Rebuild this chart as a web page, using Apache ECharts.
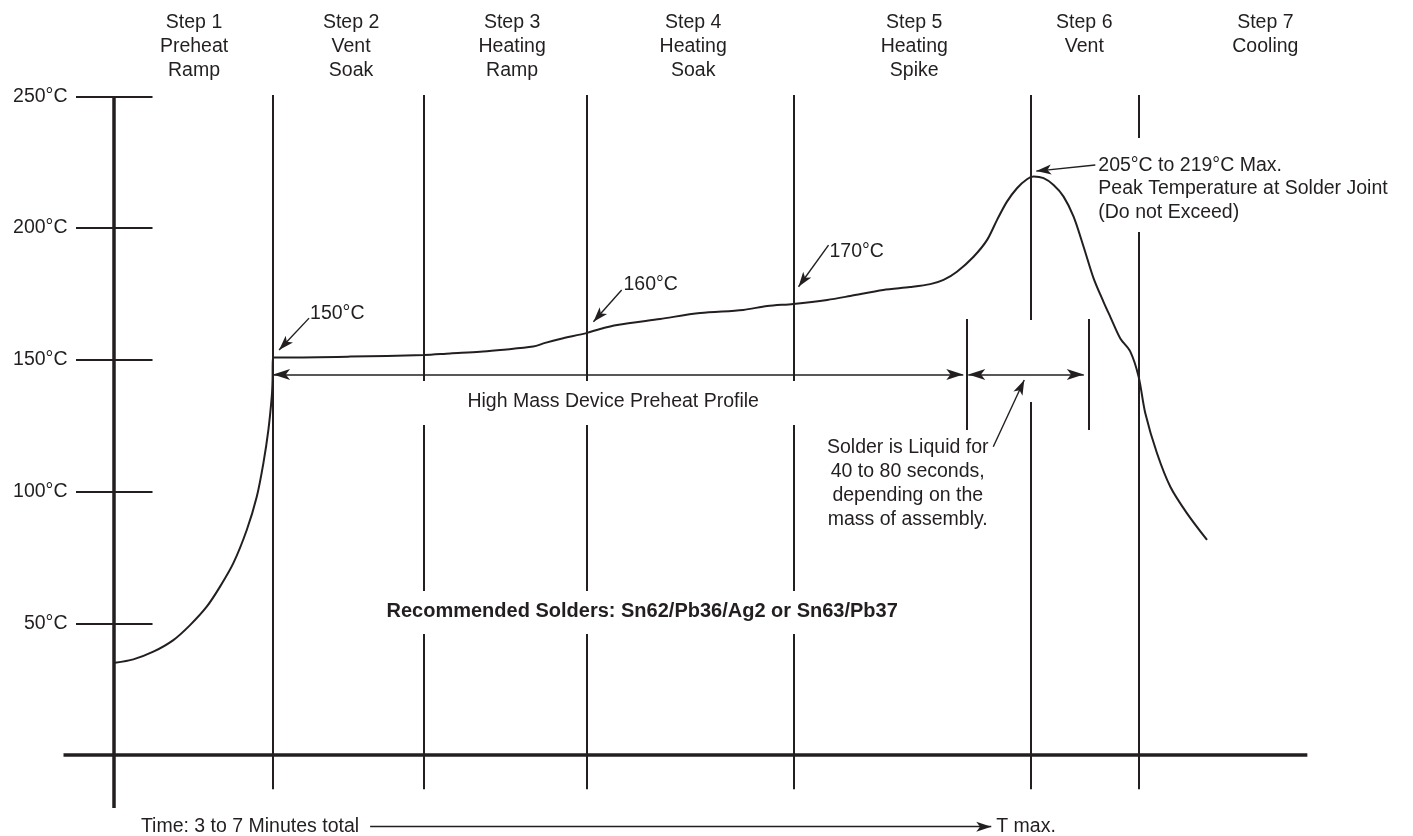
<!DOCTYPE html>
<html><head><meta charset="utf-8">
<script src="https://cdn.jsdelivr.net/npm/echarts@6/dist/echarts.min.js"></script>
<style>html,body{margin:0;padding:0;background:#fff}#c{width:1413px;height:836px}</style>
</head><body><div id="c"></div>
<script>
// Time in arbitrary units (0 = start of profile), temperature in °C
const tempTicks = [50, 100, 150, 200, 250];
const profileTime = [0.15, 1.98, 3.98, 5.98, 7.65, 9.32, 10.65, 11.98, 13.32, 14.32, 14.98, 15.48, 15.82, 15.9, 15.92, 16.3, 17.15, 23.65, 31.05, 33.65, 36.65, 38.65, 41.95, 43.15, 44.65, 47.35, 48.65, 50.35, 54.65, 58.65, 62.95, 65.35, 67.95, 71.35, 73.65, 76.95, 79.65, 81.65, 82.98, 84.32, 85.98, 87.32, 88.32, 89.32, 90.32, 91.32, 91.98, 92.98, 93.98, 94.98, 95.98, 96.98, 97.98, 98.98, 99.65, 100.65, 101.65, 102.48, 103.15, 104.32, 105.65, 107.32, 109.32];
const profileTemp = [35.0, 36.3, 39.2, 43.6, 49.3, 56.3, 63.9, 72.8, 85.4, 98.0, 110.7, 123.3, 136.0, 142.3, 150.9, 150.9, 150.9, 151.2, 151.8, 152.4, 153.0, 153.7, 155.0, 156.4, 157.9, 160.2, 161.7, 163.2, 165.5, 167.7, 168.9, 170.4, 171.2, 172.7, 174.2, 176.5, 177.6, 178.7, 180.3, 183.4, 189.1, 195.4, 203.0, 210.0, 215.1, 218.5, 219.5, 218.9, 216.3, 211.9, 204.3, 192.9, 180.9, 171.9, 166.3, 158.1, 153.1, 143.6, 129.7, 114.5, 101.8, 91.7, 81.6];
const stepNames = ['Step 1\nPreheat\nRamp', 'Step 2\nVent\nSoak', 'Step 3\nHeating\nRamp', 'Step 4\nHeating\nSoak', 'Step 5\nHeating\nSpike', 'Step 6\nVent', 'Step 7\nCooling'];
const stepCenters = [8.05, 23.75, 39.85, 57.95, 80.05, 97.05, 115.15];
const stepBoundaries = [15.9, 31.05, 47.3, 68.0, 91.7, 102.5];
const liquidStart = 85.25, liquidEnd = 97.45;   // liquidus window markers
const preheatStart = 15.95, preheatEnd = 84.95; // preheat profile span
const dimTemp = 144.4;
const calloutLabels = ['150°C', '160°C', '170°C'];
const calloutTip = [[16.55, 153.7], [47.98, 164.4], [68.48, 177.7]];
const calloutTail = [[19.55, 165.8], [50.8, 176.5], [71.48, 193.5]];
const peakText = '205°C to 219°C Max.\nPeak Temperature at Solder Joint\n(Do not Exceed)';
const peakTip = [92.25, 221.6], peakTail = [98.15, 223.9];
const liquidText = 'Solder is Liquid for\n40 to 80 seconds,\ndepending on the\nmass of assembly.';
const liquidTail = [87.95, 117.0], liquidTip = [91.05, 142.3];
const preheatText = 'High Mass Device Preheat Profile';
const solderText = 'Recommended Solders: Sn62/Pb36/Ag2 or Sn63/Pb37';
const timeText = 'Time: 3 to 7 Minutes total';
const tmaxText = 'T max.';
const timeArrowStart = 25.65, timeArrowEnd = 87.75, timeRow = -27.2;

const INK = '#231f20';
const FONT = '"Liberation Sans", Arial, Helvetica, sans-serif';
const FS = 19.5;

const seg = (x1, y1, x2, y2) => [{coord: [x1, y1]}, {coord: [x2, y2]}];

// step boundary segments (gaps leave room for text)
const gapsMid = [[141.9, 250.5], [62.2, 125.2], [-13, 45.9]];
const boundarySegs = [
  [[-13, 250.5]],
  gapsMid, gapsMid, gapsMid,
  [[165.1, 250.5], [-13, 134.0]],
  [[234.2, 250.5], [-13, 198.5]]
];
const stepLineData = [];
stepBoundaries.forEach((x, i) => boundarySegs[i].forEach(r => stepLineData.push(seg(x, r[0], x, r[1]))));
stepLineData.push(seg(liquidStart, 123.3, liquidStart, 165.5));
stepLineData.push(seg(liquidEnd, 123.3, liquidEnd, 165.5));

const tickData = tempTicks.map(v => seg(-3.75, v, 3.9, v));
const axisData = [seg(0, -20.1, 0, 250), seg(-5, 0, 119.35, 0)];

const dimData = [seg(preheatStart, dimTemp, preheatEnd, dimTemp), seg(liquidStart + 0.2, dimTemp, liquidEnd - 0.45, dimTemp)];
const pointerData = calloutTip.map((tip, i) => seg(calloutTail[i][0], calloutTail[i][1], tip[0], tip[1]));
pointerData.push(seg(peakTail[0], peakTail[1], peakTip[0], peakTip[1]));
pointerData.push(seg(liquidTail[0], liquidTail[1], liquidTip[0], liquidTip[1]));
pointerData.push(seg(timeArrowStart, timeRow, timeArrowEnd, timeRow));

const txt = (name, x, y, pos, extra) => ({name, value: [x, y], label: Object.assign({position: pos, distance: 0}, extra || {})});
const textData = [
  txt(calloutLabels[0], 19.65, 167.4, 'right'),
  txt(calloutLabels[1], 50.98, 178.4, 'right'),
  txt(calloutLabels[2], 71.58, 191.0, 'right'),
  txt(peakText, 98.45, 214.9, 'right', {lineHeight: 23.5}),
  txt(liquidText, 79.4, 102.8, 'inside', {align: 'center', lineHeight: 24}),
  txt(preheatText, 49.95, 134.0, 'inside'),
  txt(solderText, 52.85, 54.4, 'inside', {fontWeight: 'bold', fontSize: 20}),
  txt(timeText, 24.55, timeRow, 'left'),
  txt(tmaxText, 88.25, timeRow, 'right')
];

const markSeries = (name, data, width, symbol, symbolSize) => ({
  name, type: 'line', data: [], silent: true, clip: false, animation: false,
  markLine: {
    silent: true, animation: false, symbol, symbolSize: symbolSize || 0, symbolOffset: 0,
    label: {show: false}, emphasis: {disabled: true},
    lineStyle: {type: 'solid', color: INK, width, opacity: 1},
    itemStyle: {color: INK},
    data
  }
});

const chart = echarts.init(document.getElementById('c'), null, {renderer: 'canvas'});
chart.setOption({
  backgroundColor: '#fff',
  animation: false,
  textStyle: {fontFamily: FONT, color: INK},
  grid: {left: 63.5, right: 105.65, top: 69.9, bottom: 1.95, containLabel: false, outerBoundsMode: 'none'},
  xAxis: [
    {type: 'value', min: -5, max: 119.35, axisLine: {show: false}, axisTick: {show: false}, splitLine: {show: false}, axisLabel: {show: false}},
    {type: 'value', position: 'top', min: -5, max: 119.35, axisLine: {show: false}, axisTick: {show: false}, splitLine: {show: false},
     axisLabel: {customValues: stepCenters, formatter: v => stepNames[stepCenters.indexOf(v)] || '', color: INK, fontFamily: FONT, fontSize: FS, lineHeight: 24, align: 'center', verticalAlign: 'top', margin: 59.2}}
  ],
  yAxis: {type: 'value', min: -30, max: 260, axisLine: {show: false}, axisTick: {show: false}, splitLine: {show: false},
    axisLabel: {customValues: tempTicks, formatter: '{value}°C', color: INK, fontFamily: FONT, fontSize: FS, margin: -4}},
  series: [
    {name: 'Temperature', type: 'line', data: profileTime.map((t, i) => [t, profileTemp[i]]), showSymbol: false, symbol: 'none', smooth: 0.3,
     silent: true, clip: false, lineStyle: {color: INK, width: 2}, emphasis: {disabled: true}},
    markSeries('axes', axisData, 3.5, ['none', 'none']),
    markSeries('ticks', tickData, 2, ['none', 'none']),
    markSeries('steps', stepLineData, 2, ['none', 'none']),
    markSeries('dims', dimData, 1.5, ['arrow', 'arrow'], [8.25, 17]),
    markSeries('pointers', pointerData, 1.4, ['none', 'arrow'], [7.5, 15]),
    {name: 'text', type: 'scatter', data: textData, symbolSize: 0, silent: true, clip: false, itemStyle: {opacity: 1, color: INK},
     label: {show: true, formatter: '{b}', color: INK, fontFamily: FONT, fontSize: FS, opacity: 1}, emphasis: {disabled: true}}
  ]
});
</script></body></html>
